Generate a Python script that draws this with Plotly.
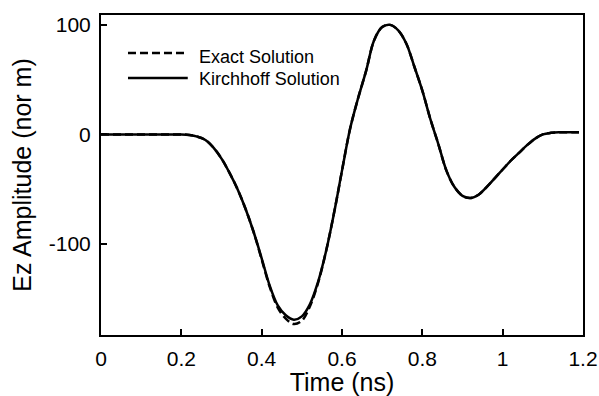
import plotly.graph_objects as go

time_ns = [0.00, 0.02, 0.04, 0.06, 0.08, 0.10, 0.12, 0.14, 0.16, 0.18, 0.20,
           0.22, 0.24, 0.26, 0.28, 0.30, 0.32, 0.34, 0.36, 0.38, 0.40,
           0.42, 0.44, 0.46, 0.48, 0.50, 0.52, 0.54, 0.56, 0.58, 0.60,
           0.62, 0.64, 0.66, 0.68, 0.70, 0.72, 0.74, 0.76, 0.78, 0.80,
           0.82, 0.84, 0.86, 0.88, 0.90, 0.92, 0.94, 0.96, 0.98, 1.00,
           1.02, 1.04, 1.06, 1.08, 1.10, 1.12, 1.14, 1.16, 1.18, 1.19]

kirchhoff = [0, 0, 0, 0, 0, 0, 0, 0, 0, 0, 0,
             -0.5, -2, -5, -12, -22, -35, -50, -68, -89, -113,
             -138, -156, -165, -169, -166, -155, -135, -107, -72, -33,
             5, 33, 58, 86, 98, 100, 95, 83, 62, 40,
             14, -9, -33, -48, -56, -58, -55, -48, -40, -32,
             -24, -17, -10, -4, 0, 1.5, 2, 2, 2, 2]

exact = [0, 0, 0, 0, 0, 0, 0, 0, 0, 0, 0,
         -0.5, -2, -5, -12, -22, -35, -50, -68, -89, -114,
         -139, -158, -168, -173, -170, -157, -136, -107, -72, -33,
         5, 33, 58, 86, 98, 100, 95, 83, 62, 40,
         14, -9, -33, -48, -56, -58, -55, -48, -40, -32,
         -24, -17, -10, -4, 0, 1.5, 2, 2, 2, 2]

x_ticks = [0, 0.2, 0.4, 0.6, 0.8, 1.0, 1.2]
x_tick_labels = ["0", "0.2", "0.4", "0.6", "0.8", "1", "1.2"]
y_ticks = [-100, 0, 100]
y_tick_labels = ["-100", "0", "100"]

series_names = ["Exact Solution", "Kirchhoff Solution"]

FONT = "Liberation Sans, Arial, Helvetica, sans-serif"

fig = go.Figure()
fig.add_trace(go.Scatter(x=time_ns, y=exact, mode="lines", name=series_names[0],
                         line=dict(color="black", width=2.5, dash="8px,4px", shape="spline"),
                         showlegend=False))
fig.add_trace(go.Scatter(x=time_ns, y=kirchhoff, mode="lines", name=series_names[1],
                         line=dict(color="black", width=2.5, shape="spline"),
                         showlegend=False))

# manual legend (long line samples as in the original)
legend_rows = [(0.881, 0.869, "8px,4px"), (0.803, 0.800, "solid")]
for (ly, ty, dash), name in zip(legend_rows, series_names):
    fig.add_shape(type="line", xref="paper", yref="paper", x0=0.056, x1=0.180, y0=ly, y1=ly,
                  line=dict(color="black", width=2.5, dash=dash))
    fig.add_annotation(xref="paper", yref="paper", x=0.199, y=ty, text=name, showarrow=False,
                       xanchor="left", yanchor="middle", font=dict(size=18, color="black", family=FONT))

fig.update_layout(
    width=599, height=396,
    margin=dict(l=101, r=16, t=15, b=61),
    paper_bgcolor="white", plot_bgcolor="white",
    font=dict(family=FONT, color="black"),
)
fig.update_xaxes(range=[0, 1.2], tickvals=x_ticks, ticktext=x_tick_labels,
                 ticks="inside", ticklen=6, tickwidth=1.5, tickcolor="black",
                 showline=True, linecolor="black", linewidth=2, mirror=True,
                 showgrid=False, zeroline=False, tickfont=dict(size=21),
                 ticklabelstandoff=4, automargin=False,
                 title=dict(text="Time (ns)", font=dict(size=25), standoff=6))
fig.update_yaxes(range=[-183, 109], tickvals=y_ticks, ticktext=y_tick_labels,
                 ticks="inside", ticklen=6, tickwidth=1.5, tickcolor="black",
                 showline=True, linecolor="black", linewidth=2, mirror=True,
                 showgrid=False, zeroline=False, tickfont=dict(size=21),
                 ticklabelstandoff=4, automargin=False,
                 title=dict(text="Ez Amplitude (nor m)", font=dict(size=25), standoff=10))

fig.write_html("out.html")
